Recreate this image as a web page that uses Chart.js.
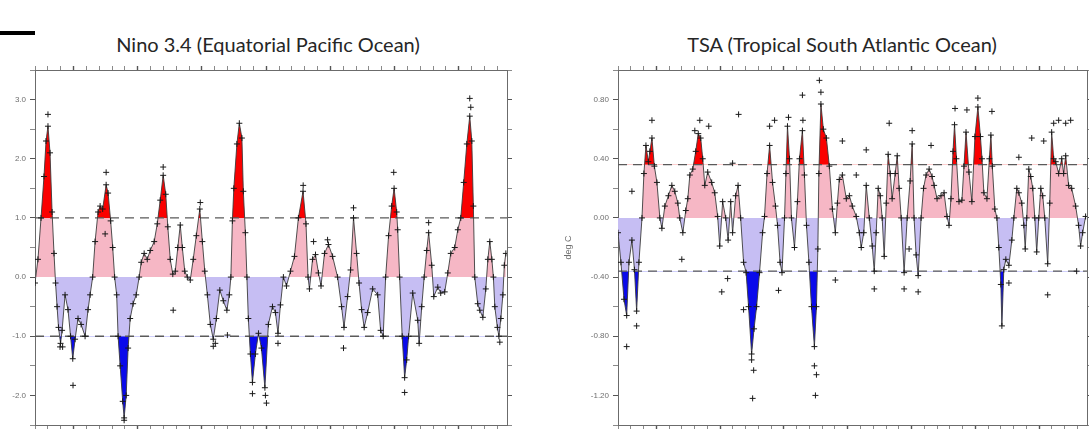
<!DOCTYPE html>
<html>
<head>
<meta charset="utf-8">
<script src="https://cdn.jsdelivr.net/npm/chart.js@4.4.0/dist/chart.umd.min.js"></script>
<style>
    html, body { margin: 0; padding: 0; background: #fff; width: 1089px; height: 440px; overflow: hidden; }
    .panel { position: absolute; top: 0; width: 540px; height: 440px; }
    .title { position: absolute; top: 32px; line-height: 24px; font: 20px Lato, 'Open Sans', sans-serif;
             color: #262626; white-space: nowrap; transform: translateX(-50%); }
    #bar { position: absolute; left: 0; top: 31px; width: 35px; height: 4px; background: #000; }
</style>
</head>
<body>
<div id="bar"></div>
<div class="title" style="left:268px">Nino 3.4 (Equatorial Pacific Ocean)</div>
<div class="title" style="left:842px">TSA (Tropical South Atlantic Ocean)</div>
<div class="panel" style="left:0"><canvas id="ninoChart" width="540" height="440"></canvas></div>
<div class="panel" style="left:560px"><canvas id="tsaChart" width="540" height="440"></canvas></div>

<script>
// Two SST anomaly panels: smoothed index (line with + marks), raw months off the line,
// fills coloured by sign and by threshold.

const X_MIN = 1982;
const X_MAX = 2018.75;

const PINK = 'rgb(246,183,197)';
const LAVENDER = 'rgb(198,190,243)';
const RED = 'rgb(250,0,0)';
const BLUE = 'rgb(10,10,235)';
const CLEAR = 'rgba(0,0,0,0)';

// ---- Nino 3.4 (deg C) ----
const ninoYears = [
    1982.00, 1982.23, 1982.47, 1982.70, 1982.86, 1983.01, 1983.17, 1983.33, 1983.48, 1983.60,
    1983.72, 1983.83, 1983.99, 1984.11, 1984.34, 1984.57, 1984.77, 1984.94, 1985.12, 1985.35,
    1985.59, 1985.90, 1986.13, 1986.29, 1986.49, 1986.68, 1986.91, 1987.07, 1987.27, 1987.54,
    1987.69, 1987.89, 1988.05, 1988.20, 1988.36, 1988.47, 1988.63, 1988.83, 1988.94, 1989.10,
    1989.25, 1989.41, 1989.64, 1989.88, 1990.11, 1990.27, 1990.50, 1990.74, 1990.97, 1991.28,
    1991.52, 1991.75, 1991.98, 1992.18, 1992.34, 1992.53, 1992.73, 1992.92, 1993.12, 1993.31,
    1993.47, 1993.66, 1993.86, 1994.09, 1994.32, 1994.56, 1994.83, 1995.03, 1995.22, 1995.42,
    1995.65, 1995.88, 1996.12, 1996.39, 1996.66, 1996.94, 1997.13, 1997.25, 1997.37, 1997.48,
    1997.72, 1997.91, 1998.11, 1998.22, 1998.38, 1998.50, 1998.61, 1998.77, 1998.93, 1999.16,
    1999.40, 1999.63, 1999.90, 2000.17, 2000.49, 2000.72, 2000.92, 2001.11, 2001.34, 2001.58,
    2001.89, 2002.20, 2002.51, 2002.87, 2003.10, 2003.26, 2003.37, 2003.61, 2003.84, 2004.07,
    2004.27, 2004.54, 2004.85, 2005.17, 2005.56, 2005.87, 2006.06, 2006.34, 2006.57, 2006.80,
    2007.04, 2007.23, 2007.43, 2007.63, 2007.90, 2008.29, 2008.68, 2008.91, 2009.11, 2009.30,
    2009.53, 2009.77, 2009.96, 2010.16, 2010.24, 2010.39, 2010.59, 2010.78, 2010.94, 2011.09,
    2011.41, 2011.80, 2011.91, 2012.11, 2012.30, 2012.50, 2012.65, 2012.89, 2013.05, 2013.36,
    2013.59, 2013.90, 2014.14, 2014.37, 2014.68, 2014.92, 2015.15, 2015.38, 2015.62, 2015.85,
    2016.01, 2016.13, 2016.24, 2016.47, 2016.63, 2016.87, 2017.10, 2017.26, 2017.41, 2017.57,
    2017.69, 2017.80, 2018.00, 2018.12, 2018.27, 2018.43, 2018.54, 2018.66
];
const ninoValues = [
    -0.1, 0.3, 1.0, 1.7, 2.3, 2.55, 2.1, 1.1, 0.4, -0.1,
    -0.5, -0.85, -1.12, -0.9, -0.3, -0.55, -1.0, -1.38, -1.05, -0.7,
    -0.8, -1.0, -0.55, -0.3, 0.0, 0.6, 1.1, 1.2, 1.15, 1.56,
    1.42, 0.95, 0.5, 0.0, -0.3, -1.0, -1.5, -2.1, -2.38, -2.0,
    -1.2, -0.7, -0.45, -0.3, 0.0, 0.25, 0.4, 0.3, 0.45, 0.6,
    0.9, 1.3, 1.72, 1.4, 0.85, 0.3, 0.05, 0.1, 0.5, 0.88,
    0.5, 0.1, 0.0, -0.05, 0.3, 0.7, 1.15, 0.6, 0.1, -0.3,
    -0.8, -1.05, -0.7, -0.22, -0.4, -0.56, -0.3, 0.0, 0.95, 1.5,
    2.25, 2.6, 2.35, 1.45, 0.75, 0.0, -0.7, -1.3, -1.78, -1.3,
    -0.95, -1.2, -1.87, -0.8, -0.5, -0.6, -0.95, -0.47, 0.0, -0.15,
    0.1, 0.35, 1.0, 1.45, 0.9, 0.0, -0.2, 0.3, 0.38, 0.07,
    -0.15, 0.4, 0.55, 0.35, 0.0, -0.5, -0.85, -0.33, 0.12, 1.0,
    0.4, -0.1, -0.55, -0.85, -0.6, -0.2, -0.3, -0.9, -1.0, 0.0,
    0.7, 1.2, 1.5, 1.1, 0.8, 0.0, -1.0, -1.7, -1.4, -1.0,
    -0.27, -0.73, -1.12, -0.5, 0.0, 0.45, 0.75, 0.2, -0.33, -0.17,
    -0.27, -0.25, 0.07, 0.4, 0.5, 0.8, 1.0, 1.6, 2.25, 2.72,
    2.3, 1.2, 0.0, -0.45, -0.56, -0.68, -0.2, 0.3, 0.6, 0.3,
    0.0, -0.5, -0.85, -1.0, -0.7, -0.3, 0.2, 0.4
];
// raw months that sit off the smoothed line
const ninoRawYears = [
    1983.01, 1987.54, 1991.98, 1994.87, 2002.88, 2009.93, 2015.85, 2015.93,
    1984.96, 1983.95, 1984.15, 1998.93, 1999.94, 2000.02, 2006.02, 2010.78, 1988.94,
    1992.76, 2000.92, 1995.88, 1996.04, 1987.46, 2003.69, 2004.78, 2006.80, 2012.65,
    1996.98, 2018.19
];
const ninoRawValues = [
    2.75, 1.77, 1.86, 1.26, 1.55, 1.77, 3.02, 2.87,
    -1.83, -1.18, -1.18, -1.97, -2.0, -2.13, -1.2, -1.95, -2.42,
    -0.56, -1.12, -1.17, -1.12, 0.73, 0.6, 0.63, 1.17, 0.92,
    -0.98, -1.1
];
const ninoThreshold = 1.0;
const ninoTickValues = [-2.5, -2, -1.5, -1, -0.5, 0, 0.5, 1, 1.5, 2, 2.5, 3, 3.5];
const ninoLabelValues = [-2, -1, 0, 1, 2, 3];
const ninoLabels = ['-2.0', '-1.0', '0.0', '1.0', '2.0', '3.0'];

// ---- TSA (deg C) ----
const tsaYears = [
    1982.00, 1982.23, 1982.47, 1982.68, 1982.86, 1983.09, 1983.29, 1983.46, 1983.64, 1983.88,
    1984.03, 1984.19, 1984.38, 1984.50, 1984.66, 1984.85, 1985.05, 1985.28, 1985.44, 1985.67,
    1985.95, 1986.22, 1986.45, 1986.69, 1986.84, 1987.08, 1987.31, 1987.47, 1987.63, 1987.86,
    1988.09, 1988.29, 1988.48, 1988.64, 1988.80, 1989.03, 1989.34, 1989.58, 1989.81, 1989.97,
    1990.20, 1990.44, 1990.63, 1990.83, 1990.98, 1991.22, 1991.41, 1991.61, 1991.84, 1992.04,
    1992.23, 1992.47, 1992.66, 1992.86, 1993.09, 1993.33, 1993.48, 1993.68, 1993.88, 1994.11,
    1994.34, 1994.50, 1994.70, 1994.85, 1995.05, 1995.16, 1995.28, 1995.44, 1995.59, 1995.83,
    1996.06, 1996.22, 1996.45, 1996.61, 1996.77, 1996.96, 1997.16, 1997.39, 1997.55, 1997.66,
    1997.74, 1997.90, 1998.09, 1998.33, 1998.56, 1998.80, 1999.03, 1999.19, 1999.34, 1999.58,
    1999.89, 2000.13, 2000.36, 2000.67, 2000.91, 2001.06, 2001.26, 2001.45, 2001.69, 2001.92,
    2002.08, 2002.23, 2002.39, 2002.55, 2002.70, 2002.86, 2003.02, 2003.17, 2003.33, 2003.48,
    2003.72, 2003.88, 2004.03, 2004.19, 2004.42, 2004.66, 2004.89, 2005.05, 2005.20, 2005.36,
    2005.52, 2005.75, 2005.94, 2006.14, 2006.38, 2006.61, 2006.77, 2007.00, 2007.31, 2007.55,
    2007.78, 2007.94, 2008.09, 2008.25, 2008.37, 2008.52, 2008.72, 2008.95, 2009.11, 2009.27,
    2009.50, 2009.73, 2009.97, 2010.20, 2010.40, 2010.52, 2010.67, 2010.91, 2011.10, 2011.22,
    2011.33, 2011.53, 2011.69, 2011.84, 2012.00, 2012.08, 2012.23, 2012.39, 2012.63, 2012.86,
    2013.02, 2013.25, 2013.41, 2013.64, 2013.80, 2013.91, 2014.03, 2014.19, 2014.34, 2014.50,
    2014.66, 2014.81, 2014.97, 2015.13, 2015.28, 2015.44, 2015.67, 2015.83, 2015.98, 2016.14,
    2016.30, 2016.53, 2016.77, 2016.92, 2017.08, 2017.31, 2017.55, 2017.86, 2018.09, 2018.25,
    2018.41, 2018.64
];
const tsaValues = [
    -0.1, -0.3, -0.55, -0.66, -0.3, -0.15, -0.35, -0.63, -0.3, 0.0,
    0.3, 0.49, 0.38, 0.45, 0.54, 0.35, 0.24, 0.0, -0.07, 0.08,
    0.15, 0.22, 0.18, 0.1, 0.0, -0.1, 0.05, 0.13, 0.29, 0.33,
    0.45, 0.57, 0.54, 0.4, 0.22, 0.31, 0.24, 0.17, 0.01, -0.19,
    0.11, 0.0, -0.15, 0.11, -0.1, 0.15, 0.22, 0.0, -0.3, -0.37,
    -0.6, -0.92, -0.75, -0.6, -0.37, -0.1, 0.01, 0.3, 0.49, 0.24,
    0.08, -0.05, -0.3, -0.37, 0.0, 0.3, 0.62, 0.4, 0.0, -0.2,
    0.11, 0.4, 0.59, 0.29, -0.05, -0.3, -0.6, -0.87, -0.6, -0.21,
    0.3, 0.77, 0.6, 0.54, 0.35, 0.06, -0.1, 0.1, 0.26, 0.29,
    0.13, 0.15, 0.08, 0.01, -0.1, -0.2, -0.1, 0.22, 0.0, -0.19,
    -0.36, -0.1, 0.2, 0.15, 0.0, -0.26, 0.1, 0.43, 0.3, 0.13,
    0.3, 0.42, 0.2, 0.0, -0.37, 0.0, 0.25, 0.5, 0.0, -0.25,
    -0.39, 0.0, 0.2, 0.29, 0.33, 0.28, 0.22, 0.13, 0.15, 0.17,
    0.01, -0.05, 0.13, 0.45, 0.63, 0.4, 0.11, 0.12, 0.35, 0.58,
    0.31, 0.11, 0.55, 0.75, 0.55, 0.4, 0.17, 0.13, 0.4, 0.56,
    0.35, 0.06, 0.0, -0.2, -0.45, -0.73, -0.35, -0.28, -0.32, -0.15,
    0.0, 0.2, 0.17, 0.1, -0.05, -0.21, 0.0, 0.33, 0.28, 0.2,
    0.0, -0.23, 0.0, 0.2, 0.15, 0.0, -0.31, 0.1, 0.58, 0.4,
    0.38, 0.3, 0.4, 0.3, 0.42, 0.22, 0.2, 0.08, -0.05, -0.19,
    -0.1, 0.01
];
const tsaRawYears = [
    1982.68, 1983.46, 1984.66, 1983.09, 1991.45, 1990.98, 1992.47, 1992.63, 1992.55, 1997.39,
    1997.55, 1997.47, 1997.78, 1997.90, 1993.88, 1994.27, 1995.36, 1996.45, 1996.49, 1990.13,
    1990.59, 1991.84, 1994.58, 1987.00, 1999.58, 2001.45, 2003.25, 2005.05, 2006.53, 2008.41,
    2009.34, 2010.20, 2011.30, 2013.41, 2014.42, 2015.36, 2016.14, 2016.53, 2017.08, 2017.47,
    2000.67, 1999.03, 2002.08, 2004.42, 2005.52, 2015.67, 2012.63, 2017.94, 2004.81, 1989.11,
    1988.41, 1988.02
];
const tsaRawValues = [
    -0.87, -0.73, 0.66, 0.18, 0.70, 0.37, -0.96, -1.03, -1.22, -1.0,
    -1.06, -1.2, 0.93, 0.85, 0.62, 0.66, 0.68, 0.83, 0.66, -0.5,
    -0.41, -0.62, -0.49, -0.28, 0.52, 0.46, 0.64, 0.59, 0.49, 0.74,
    0.73, 0.81, 0.72, 0.41, 0.54, 0.52, 0.64, 0.66, 0.64, 0.66,
    0.29, -0.42, -0.48, -0.48, -0.5, -0.52, -0.44, -0.36, -0.21, 0.62,
    0.66, 0.59
];
const tsaThreshold = 0.36;
const tsaTickValues = [-1.4, -1.2, -1.0, -0.8, -0.6, -0.4, -0.2, 0, 0.2, 0.4, 0.6, 0.8, 1.0];
const tsaLabelValues = [-1.2, -0.8, -0.4, 0, 0.4, 0.8];
const tsaLabels = ['-1.20', '-0.80', '-0.40', '0.00', '0.40', '0.80'];

function toPoints(xs, ys) {
    return xs.map((x, i) => ({ x, y: ys[i] }));
}

function labelIndex(p, v) {
    return p.labelValues.findIndex(l => Math.abs(l - v) < 1e-6);
}

function buildScales(p) {
    const border = { display: true, color: '#6b6b6b', width: 1 };
    const yearTick = c => (c.tick && Math.round(c.tick.value) % 5 === 0 ? '#555' : '#8a8a8a');
    const yearWidth = c => (c.tick && Math.round(c.tick.value) % 5 === 0 ? 1.4 : 1);
    const valTick = c => (c.tick && labelIndex(p, c.tick.value) >= 0 ? '#555' : '#8a8a8a');

    const xAxis = (position, height) => ({
        type: 'linear', position, min: X_MIN, max: X_MAX,
        ticks: { stepSize: 1, includeBounds: false, autoSkip: false, callback: () => '' },
        grid: { drawOnChartArea: false, tickLength: 4, tickColor: yearTick, tickWidth: yearWidth },
        border,
        afterFit: s => { s.height = height; }
    });
    const yAxis = (position, width, withLabels) => ({
        type: 'linear', position, min: p.yMin, max: p.yMax,
        afterBuildTicks: s => { s.ticks = p.tickValues.map(value => ({ value })); },
        ticks: {
            autoSkip: false,
            padding: 4,
            color: '#6e6e6e',
            font: { family: 'Liberation Sans, Arial, sans-serif', size: 8 },
            callback: v => {
                if (!withLabels) return '';
                const i = labelIndex(p, v);
                return i >= 0 ? p.labels[i] : '';
            }
        },
        title: withLabels && p.yTitle
            ? { display: true, text: p.yTitle, color: '#6e6e6e', padding: { top: 3, bottom: 0 },
                font: { family: 'Liberation Sans, Arial, sans-serif', size: 9 } }
            : { display: false },
        grid: { drawOnChartArea: false, tickLength: 5, tickColor: valTick },
        border,
        afterFit: s => { s.width = width; }
    });

    return {
        x: xAxis('bottom', 15),
        xTop: xAxis('top', 70),
        y: yAxis('left', p.leftWidth, true),
        yRight: yAxis('right', p.rightWidth, false)
    };
}

function makePanel(canvasId, p) {
    const line = toPoints(p.years, p.values);
    const raw = toPoints(p.rawYears, p.rawValues);
    const level = v => [{ x: X_MIN, y: v }, { x: X_MAX, y: v }];
    const fillOnly = { borderWidth: 0, pointRadius: 0, tension: 0 };
    const dashed = { borderColor: '#5a5a5a', borderWidth: 1.3, borderDash: [9, 6], pointRadius: 0, fill: false, order: 2 };

    new Chart(document.getElementById(canvasId), {
        type: 'line',
        data: {
            datasets: [
                // pink above zero, lavender below
                { ...fillOnly, data: line, fill: { target: 'origin', above: PINK, below: LAVENDER }, order: 5 },
                // red beyond the upper threshold
                { ...fillOnly, data: line, fill: { target: { value: p.threshold }, above: RED, below: CLEAR }, order: 4 },
                // blue beyond the lower threshold
                { ...fillOnly, data: line, fill: { target: { value: -p.threshold }, above: CLEAR, below: BLUE }, order: 3 },
                { ...dashed, data: level(p.threshold) },
                { ...dashed, data: level(-p.threshold) },
                {
                    data: line, fill: false, tension: 0, order: 1,
                    borderColor: '#3c3c3c', borderWidth: 0.9,
                    pointStyle: 'cross', pointRadius: 3, pointBorderColor: '#1a1a1a', pointBorderWidth: 1
                },
                {
                    data: raw, showLine: false, fill: false, order: 0,
                    pointStyle: 'cross', pointRadius: 3, pointBorderColor: '#1a1a1a', pointBorderWidth: 1
                }
            ]
        },
        options: {
            responsive: false,
            animation: false,
            events: [],
            layout: { padding: 0 },
            plugins: { legend: { display: false }, tooltip: { enabled: false }, title: { display: false } },
            scales: buildScales(p)
        }
    });
}

makePanel('ninoChart', {
    years: ninoYears, values: ninoValues,
    rawYears: ninoRawYears, rawValues: ninoRawValues,
    threshold: ninoThreshold,
    yMin: -2.5, yMax: 3.5,
    tickValues: ninoTickValues, labelValues: ninoLabelValues, labels: ninoLabels,
    leftWidth: 35, rightWidth: 33
});

makePanel('tsaChart', {
    years: tsaYears, values: tsaValues,
    rawYears: tsaRawYears, rawValues: tsaRawValues,
    threshold: tsaThreshold,
    yMin: -1.4, yMax: 1.0,
    tickValues: tsaTickValues, labelValues: tsaLabelValues, labels: tsaLabels,
    yTitle: 'deg C',
    leftWidth: 58, rightWidth: 13
});
</script>
</body>
</html>
